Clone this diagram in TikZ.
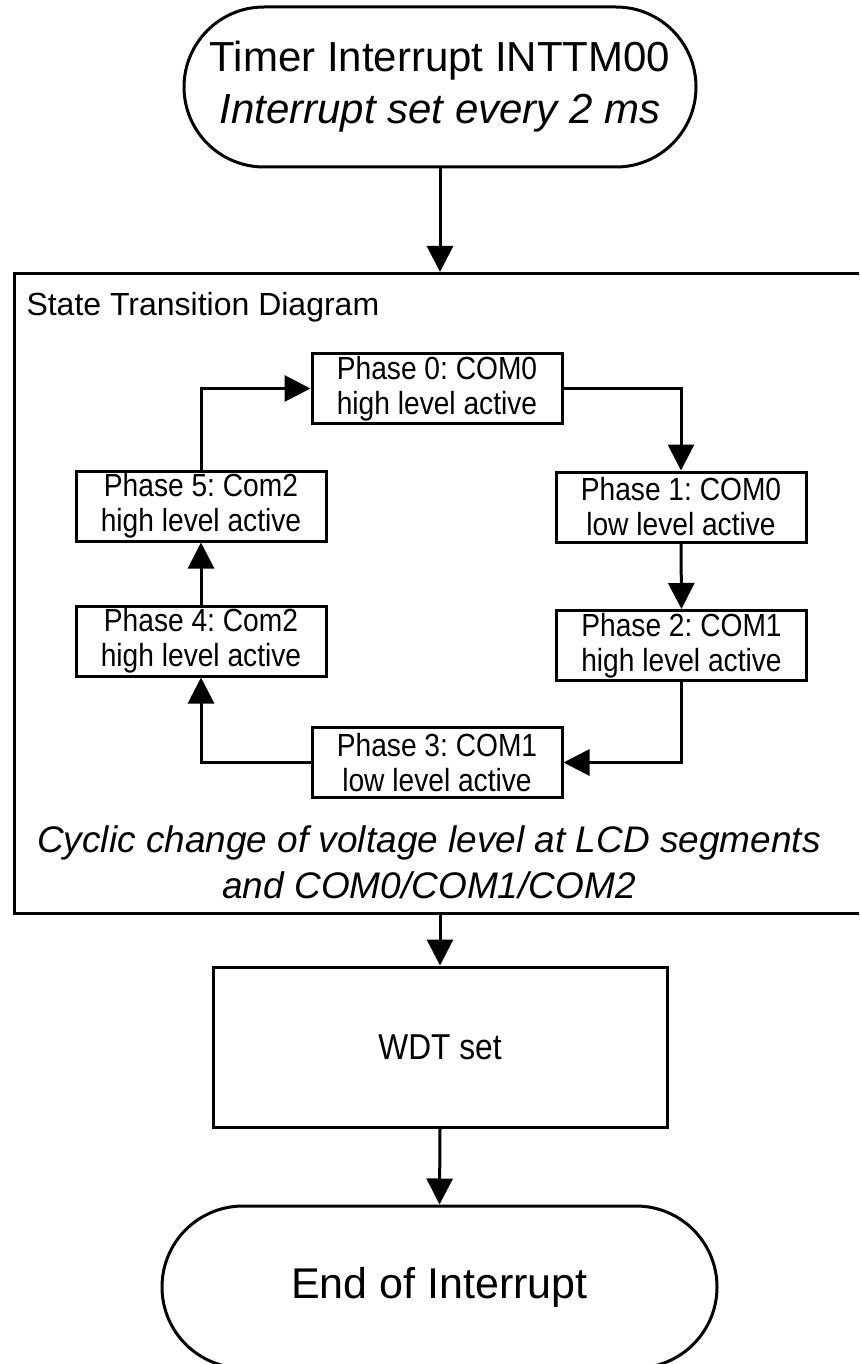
\documentclass[tikz,border=0pt]{standalone}
\usepackage{fontspec}
\setmainfont{Liberation Sans}
\newfontfamily\narrowsans[FakeStretch=0.88]{Liberation Sans}
\usetikzlibrary{arrows.meta}
\frenchspacing
\begin{document}
\begin{tikzpicture}[x=1pt,y=-1pt,line width=3pt,
  arr/.style={-{Triangle[length=26pt,width=26pt]}},
  phasebox/.style={draw,minimum width=250pt,minimum height=70pt,inner sep=0pt,align=center,font=\narrowsans\fontsize{32}{35}\selectfont},
  termbox/.style={draw,inner sep=0pt,align=center},
  procbox/.style={draw,inner sep=0pt,align=center}]
\clip (0,0) rectangle (859,1364);
\node[termbox,minimum width=512pt,minimum height=160pt,rounded corners=80pt,font=\fontsize{42}{52}\selectfont] (start) at (440,87) {Timer Interrupt INTTM00\\\textit{Interrupt set every 2 ms}};
\node[procbox,minimum width=862pt,minimum height=640pt,anchor=north west] (std) at (13,272) {};
\node[anchor=base west,inner sep=0pt,font=\fontsize{32}{35}\selectfont] (stdtitle) at (25,315) {State Transition Diagram};
\node[phasebox] (p0) at (437,388.5) {Phase 0: COM0\\high level active};
\node[phasebox] (p1) at (681,507) {Phase 1: COM0\\low level active};
\node[phasebox] (p2) at (681.5,645.5) {Phase 2: COM1\\high level active};
\node[phasebox] (p3) at (437,762.5) {Phase 3: COM1\\low level active};
\node[phasebox] (p4) at (201,641) {Phase 4: Com2\\high level active};
\node[phasebox] (p5) at (201,506) {Phase 5: Com2\\high level active};
\node[align=center,inner sep=0pt,font=\fontsize{37}{46}\selectfont\itshape] (cyc) at (429,862) {Cyclic change of voltage level at LCD segments\\and COM0/COM1/COM2};
\node[procbox,minimum width=454pt,minimum height=160pt,font=\narrowsans\fontsize{36}{40}\selectfont] (wdt) at (440,1047) {WDT set};
\node[termbox,minimum width=555pt,minimum height=162pt,rounded corners=81pt,font=\fontsize{43}{52}\selectfont] (fin) at (439.5,1287) {End of Interrupt};
\draw[arr] (start.south) -- (start.south |- std.north);
\draw[arr] (p0.east) -| (p1.north);
\draw[arr] (p1.south) -- (p2.north);
\draw[arr] (p2.south) |- (p3.east);
\draw[arr] (p3.west) -| (p4.south);
\draw[arr] (p4.north) -- (p5.south);
\draw[arr] (p5.north) |- (p0.west);
\draw[arr] (std.south -| wdt.north) -- (wdt.north);
\draw[arr] (wdt.south) -- (fin.north);
\end{tikzpicture}
\end{document}
